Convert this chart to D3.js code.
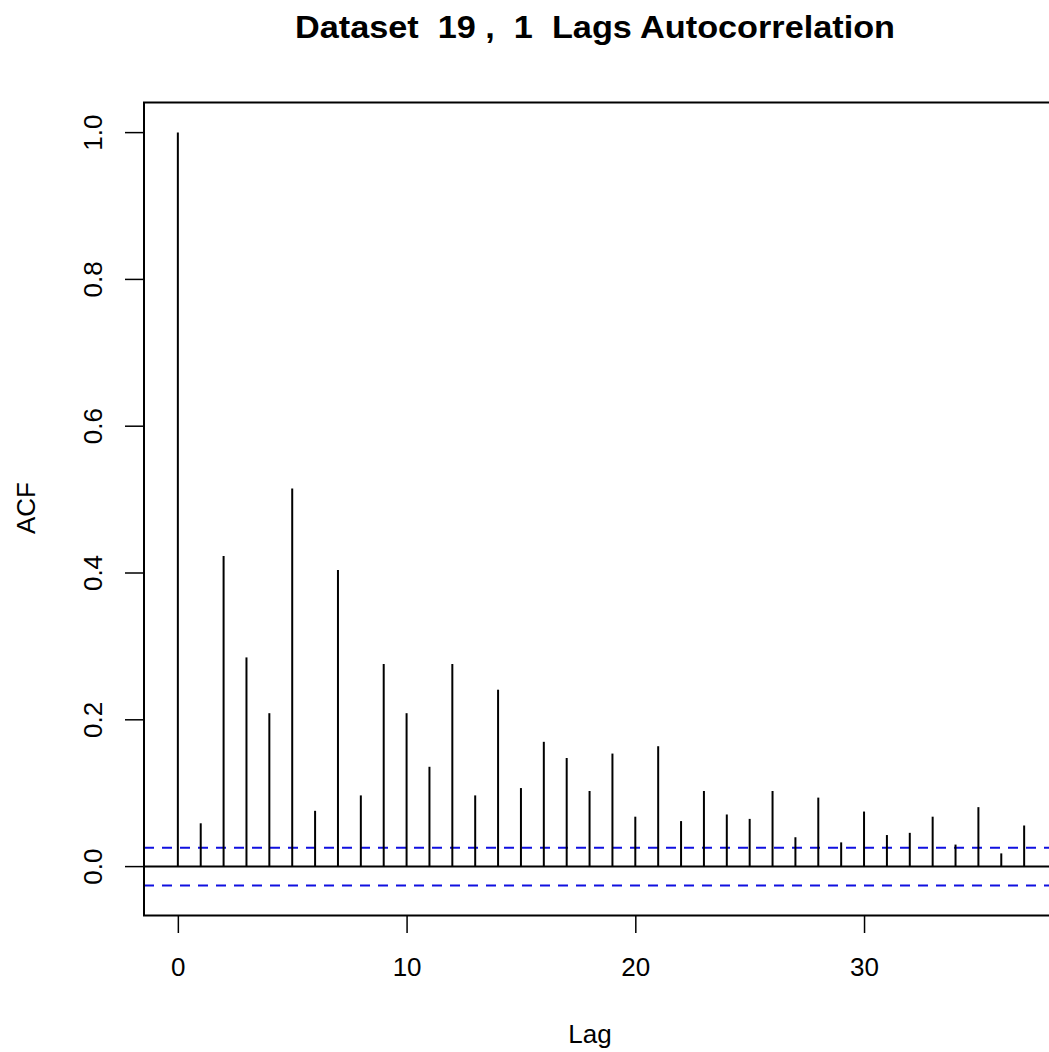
<!DOCTYPE html>
<html>
<head>
<meta charset="utf-8">
<script src="https://cdn.jsdelivr.net/npm/d3@7"></script>
<style>
html,body{margin:0;padding:0;background:#fff;}
svg{display:block;}
text{font-family:"Liberation Sans",Arial,sans-serif;fill:#000;white-space:pre;}
</style>
</head>
<body>
<svg id="c" width="1049" height="1052"></svg>
<script>
const lags = d3.range(0, 38);
const acfValues = [1.0, 0.059, 0.423, 0.285, 0.209, 0.515, 0.076, 0.404, 0.097, 0.276,
  0.209, 0.136, 0.276, 0.097, 0.241, 0.107, 0.170, 0.148, 0.103, 0.154,
  0.068, 0.164, 0.062, 0.103, 0.071, 0.065, 0.103, 0.040, 0.094, 0.033,
  0.075, 0.043, 0.046, 0.068, 0.030, 0.081, 0.018, 0.056];
const ciBound = 0.0256;
const xTicks = [0, 10, 20, 30];
const yTicks = [0.0, 0.2, 0.4, 0.6, 0.8, 1.0];
const titleText = "Dataset  19 ,  1  Lags Autocorrelation";
const xLabel = "Lag";
const yLabel = "ACF";

const svg = d3.select("#c");
const maxLag = 37;
const xPad = maxLag * 0.04;
const yMin = -ciBound, yMax = 1.0;
const yPad = (yMax - yMin) * 0.04;

const x = d3.scaleLinear().domain([-xPad, maxLag + xPad]).range([144, 1058]);
const y = d3.scaleLinear().domain([yMin - yPad, yMax + yPad]).range([915.5, 102.5]);

const g = svg.append("g");

// zero line
g.append("line")
  .attr("x1", x(-xPad)).attr("x2", x(maxLag + xPad))
  .attr("y1", y(0)).attr("y2", y(0))
  .attr("stroke", "#000").attr("stroke-width", 2);

// CI lines
[ciBound, -ciBound].forEach(v => {
  g.append("line")
    .attr("x1", x(-xPad)).attr("x2", x(maxLag + xPad))
    .attr("y1", y(v)).attr("y2", y(v))
    .attr("stroke", "#1010e0").attr("stroke-width", 2)
    .attr("stroke-dasharray", "10,8");
});

// stems
g.selectAll("line.stem").data(lags).enter().append("line")
  .attr("class", "stem")
  .attr("x1", d => x(d)).attr("x2", d => x(d))
  .attr("y1", y(0)).attr("y2", d => y(acfValues[d]))
  .attr("stroke", "#000").attr("stroke-width", 2);

// box
g.append("rect")
  .attr("x", 144).attr("y", 102.5)
  .attr("width", 1058 - 144).attr("height", 915.5 - 102.5)
  .attr("fill", "none").attr("stroke", "#000").attr("stroke-width", 2);

// x axis
const xAxis = d3.axisBottom(x).tickValues(xTicks).tickSize(17).tickPadding(25).tickFormat(d3.format("d"));
const xa = svg.append("g").attr("transform", `translate(0,916)`).call(xAxis);
xa.select(".domain").remove();
xa.selectAll("line").attr("stroke", "#000").attr("stroke-width", 1.5);
xa.selectAll("text").attr("font-size", 26).attr("font-family", '"Liberation Sans",Arial,sans-serif').attr("fill", "#000");

// y axis
const yAxis = d3.axisLeft(y).tickValues(yTicks).tickSize(19).tickPadding(14).tickFormat(d3.format(".1f"));
const ya = svg.append("g").attr("transform", `translate(144,0)`).call(yAxis);
ya.select(".domain").remove();
ya.selectAll("line").attr("stroke", "#000").attr("stroke-width", 1.5);
ya.selectAll("text")
  .attr("font-size", 26).attr("font-family", '"Liberation Sans",Arial,sans-serif').attr("fill", "#000")
  .attr("text-anchor", "middle").attr("x", null).attr("dy", null)
  .attr("transform", d => `translate(-51,${y(d)}) rotate(-90)`)
  .attr("y", 0).attr("dy", "0.35em");
ya.selectAll(".tick").attr("transform", d => `translate(0,0)`);
ya.selectAll(".tick line").attr("y1", d => y(d)).attr("y2", d => y(d));

// title
svg.append("text").attr("x", 595).attr("y", 38).attr("text-anchor", "middle")
  .attr("font-size", 32).attr("font-weight", "bold")
  .attr("textLength", 600).attr("lengthAdjust", "spacingAndGlyphs")
  .text(titleText);

// axis labels
svg.append("text").attr("x", 590).attr("y", 1043).attr("text-anchor", "middle")
  .attr("font-size", 26).text(xLabel);
svg.append("text").attr("transform", "translate(35,508) rotate(-90)").attr("text-anchor", "middle")
  .attr("font-size", 26).text(yLabel);
</script>
</body>
</html>
